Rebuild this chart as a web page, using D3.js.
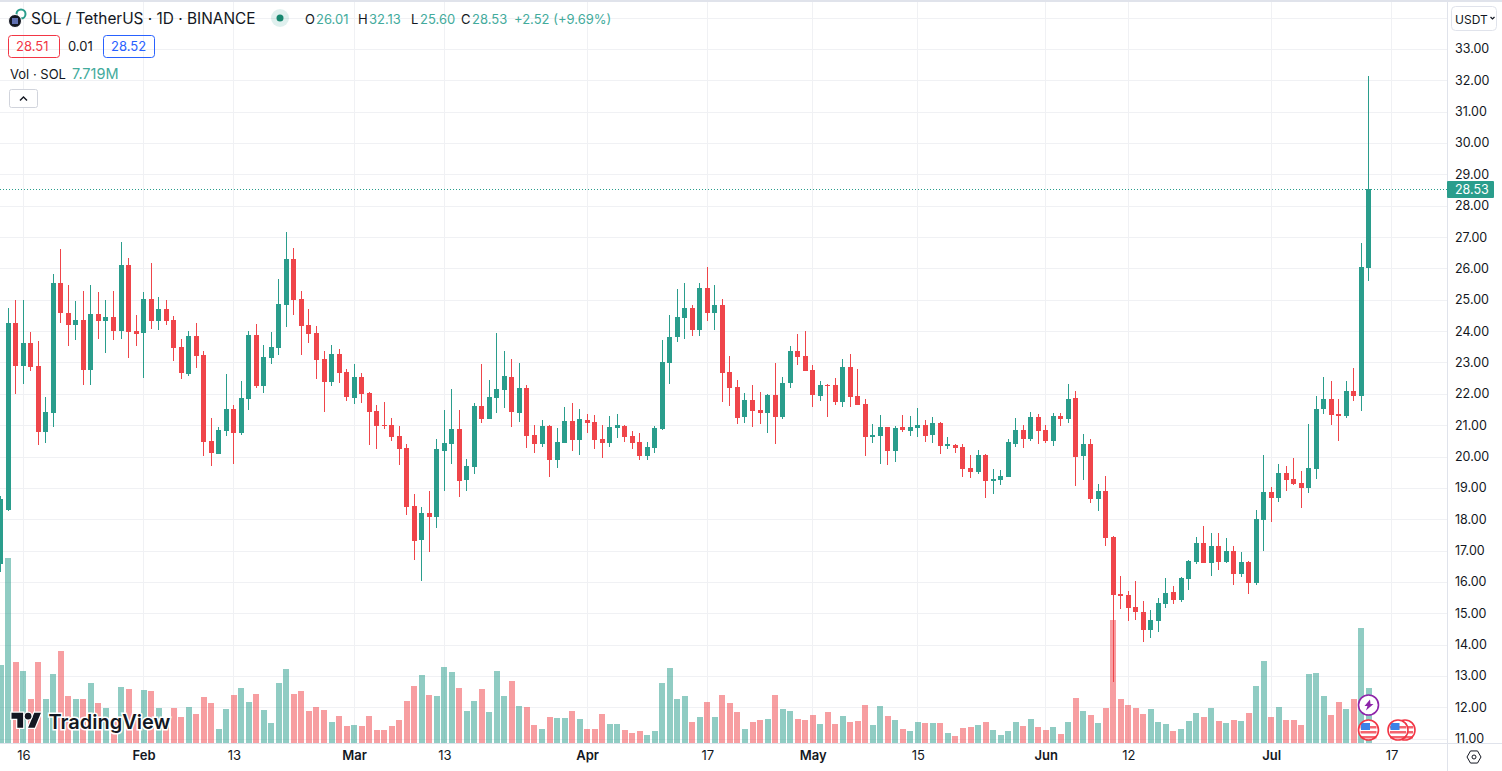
<!DOCTYPE html>
<html><head><meta charset="utf-8">
<style>
html,body{margin:0;padding:0;background:#fff;overflow:hidden}
text{font-family:Inter,"Noto Sans",sans-serif;fill:#131722}
</style>
<script src="https://cdnjs.cloudflare.com/ajax/libs/d3/7.8.5/d3.min.js"></script>
</head><body><svg id="c" width="1502" height="771"></svg>
<script>
const firstDay = "2023-01-13";
const opens = [16.57,18.29,24.25,22.88,23.61,22.88,20.78,21.38,25.52,24.57,
24.19,24.35,22.75,24.54,24.31,24.44,23.99,26.1,23.99,23.93,
25.01,24.31,24.7,24.35,23.48,22.62,23.83,23.23,20.49,20.07,
20.81,21.51,20.74,21.83,23.87,22.24,23.13,23.45,24.82,26.29,
25.01,24.19,23.93,23.1,22.37,23.26,22.69,21.86,22.53,22.02,21.44,
21.0,21.0,20.65,20.27,18.42,17.33,18.19,18.07,20.17,20.39,
20.87,19.25,19.66,21.6,21.19,21.86,22.12,22.53,21.38,22.18,
20.68,20.39,20.97,19.88,20.43,21.13,20.52,21.16,21.09,20.55,
20.43,20.9,20.97,20.65,20.46,20.01,20.27,20.87,22.97,23.8,
24.41,24.73,24.03,25.37,24.57,24.82,22.69,22.21,21.25,21.79,
21.48,21.38,21.96,21.25,22.34,23.36,23.2,22.75,21.92,22.27,
22.27,21.73,22.85,21.92,21.67,20.62,20.65,20.93,20.17,20.93,
20.81,20.9,21.0,20.68,21.06,20.33,20.36,20.3,19.63,19.5,
20.04,19.21,19.25,19.34,20.39,20.84,20.55,21.25,20.84,20.49,
21.29,21.19,21.86,20.01,20.39,18.64,18.9,17.43,15.61,15.58,
15.2,15.04,14.46,14.75,15.29,15.67,15.42,16.09,16.63,17.24,
16.6,17.14,16.63,16.98,16.25,16.63,15.96,17.97,18.86,18.67,
19.47,19.28,19.15,18.99,19.6,21.51,21.83,21.35,21.29,22.08,
21.92,26.01];
const highs = [18.75,24.75,25.0,25.0,23.96,23.68,21.89,25.83,26.61,25.46,
24.95,25.27,25.46,25.24,24.98,25.27,26.83,26.32,24.5,25.24,
26.16,25.08,24.98,24.47,23.74,23.99,24.25,23.36,21.22,20.93,
22.62,21.63,22.4,23.99,24.22,23.55,23.96,25.65,27.15,26.64,
25.27,24.7,24.15,23.36,23.55,23.42,22.78,22.94,22.66,22.05,21.63,
21.73,21.22,20.97,20.39,18.8,18.38,18.89,20.55,21.48,22.15,
21.48,19.91,21.7,22.94,22.43,23.93,23.36,23.1,22.97,22.27,
21.0,21.16,21.0,20.9,21.57,21.7,21.51,21.35,21.32,21.0,
21.29,21.35,21.0,20.81,20.74,20.46,20.97,23.71,24.5,25.33,
25.52,24.82,25.52,26.03,25.46,25.02,23.2,22.43,22.02,22.27,
22.05,21.99,22.97,22.53,23.52,23.9,24.0,22.91,22.4,22.3,
22.5,23.1,23.26,22.78,21.83,21.03,21.32,20.93,20.97,21.32,
21.29,21.54,21.16,21.25,21.09,20.62,20.39,20.4,20.04,20.2,
20.07,19.6,19.56,20.55,21.22,21.0,21.41,21.35,21.0,21.38,
21.38,22.31,22.08,20.71,20.55,19.12,19.37,17.46,16.19,15.71,
16.03,15.39,15.1,15.48,16.12,15.87,16.15,16.69,17.43,17.78,
17.56,17.56,17.4,17.14,16.95,16.66,18.29,20.04,19.02,19.76,
19.69,19.95,19.53,21.03,21.92,22.53,22.4,21.83,22.4,22.81,
26.8,32.13];
const lows = [16.31,18.25,21.99,22.3,22.72,20.36,20.42,20.93,24.25,23.52,
23.71,22.27,22.27,23.74,23.29,23.71,23.74,23.13,23.52,22.5,
24.06,24.03,24.19,23.04,22.46,22.56,22.81,20.01,19.69,20.07,
20.65,19.75,20.68,21.47,22.2,22.02,22.94,23.23,24.12,24.5,
23.23,23.61,22.46,21.41,22.24,22.34,21.76,21.67,21.7,20.36,20.23,
20.87,20.49,19.72,18.13,16.69,16.03,16.95,17.71,18.89,19.75,
18.7,18.89,19.44,21.06,21.19,21.38,21.54,20.93,21.09,20.27,
20.11,20.3,19.34,19.63,20.43,20.17,20.04,20.74,20.23,19.95,
20.3,20.58,20.46,20.23,19.88,19.88,20.11,20.84,22.31,23.64,
23.74,23.84,23.84,24.31,24.03,21.73,21.6,21.03,21.06,20.93,
21.03,20.74,20.39,21.19,22.18,22.91,22.72,21.57,21.76,21.25,
21.64,21.57,21.57,21.64,20.01,20.42,19.75,19.72,19.82,20.77,
20.65,20.62,20.46,20.42,20.07,20.23,20.11,19.34,19.31,19.44,
18.67,18.8,19.09,19.34,20.3,20.27,20.49,20.39,20.42,20.33,
20.97,21.06,19.05,19.25,18.51,18.26,17.14,12.81,15.13,14.75,
14.78,14.08,14.21,14.4,15.17,15.29,15.36,15.74,16.57,16.6,
16.19,16.38,16.6,15.9,16.15,15.61,15.9,17.0,17.91,18.54,
18.9,19.08,18.35,18.83,19.28,21.35,21.0,20.49,21.22,21.76,
21.44,25.6];
const closes = [18.64,24.25,22.88,23.61,22.85,20.78,21.41,25.52,24.57,24.19,
24.35,22.75,24.54,24.31,24.44,23.99,26.1,23.96,23.9,25.01,
24.31,24.7,24.31,23.45,22.66,23.83,23.2,20.46,20.1,20.84,
21.51,20.74,21.86,23.87,22.24,23.17,23.48,24.85,26.29,24.98,
24.15,23.9,23.07,22.37,23.26,22.66,21.89,22.53,21.99,21.41,20.97,
20.97,20.62,20.23,18.38,17.3,18.19,18.07,20.23,20.42,20.87,
19.21,19.69,21.6,21.19,21.89,22.15,22.56,21.41,22.18,20.65,
20.39,20.97,19.88,20.46,21.13,20.52,21.19,21.06,20.52,20.43,
20.93,21.0,20.62,20.43,20.01,20.3,20.9,23.0,23.8,24.44,
24.73,24.03,25.37,24.57,24.82,22.66,22.18,21.22,21.79,21.44,
21.38,21.96,21.25,22.34,23.36,23.17,22.72,21.96,22.27,22.24,
21.73,22.85,21.89,21.64,20.62,20.68,20.93,20.17,20.9,20.84,
20.93,21.0,20.65,21.06,20.33,20.39,20.27,19.6,19.5,20.04,
19.21,19.28,19.37,20.46,20.84,20.55,21.25,20.81,20.49,21.29,
21.19,21.83,19.98,20.39,18.64,18.9,17.4,15.58,15.55,15.17,
15.04,14.46,14.78,15.32,15.64,15.42,16.12,16.66,17.24,16.6,
17.14,16.63,16.98,16.25,16.63,15.96,18.0,18.86,18.67,19.47,
19.25,19.12,18.99,19.63,21.51,21.83,21.32,21.29,22.08,21.92,
26.03,28.53];
const volumes = [10.87,25.77,11.28,10.03,6.13,11.28,6.13,9.61,12.82,6.55,
6.13,6.13,8.36,5.57,4.88,3.2,7.8,7.52,3.2,7.38,
7.24,4.88,3.2,4.88,3.62,5.02,4.04,6.41,5.57,1.95,
4.74,6.69,7.66,5.71,6.83,4.6,2.79,8.36,10.31,6.83,
7.24,4.46,5.02,4.6,2.93,3.76,2.37,2.51,2.37,3.76,1.81,
1.81,2.37,3.2,5.85,7.94,9.47,6.69,6.55,10.59,9.89,
7.66,4.46,5.85,7.52,4.32,10.03,6.55,8.64,5.15,5.02,
2.51,1.95,3.62,3.48,3.48,4.46,3.34,1.95,1.95,4.04,
2.65,2.65,1.81,1.39,1.67,1.11,1.67,8.36,10.45,6.13,
6.55,2.93,3.62,5.71,3.62,6.69,5.57,4.32,1.95,2.93,
3.2,3.34,6.69,4.74,4.46,3.34,3.2,3.9,2.65,4.32,
2.65,3.76,2.93,3.07,5.29,2.51,5.15,3.76,3.2,1.95,
1.67,2.93,2.79,2.79,2.79,1.39,0.98,2.09,2.23,2.51,
2.93,1.81,1.11,1.67,2.93,2.37,3.34,2.23,1.81,2.23,
1.25,2.93,6.27,4.46,3.9,2.79,4.88,17.14,6.13,5.29,
4.88,4.04,4.74,2.93,2.65,1.67,1.95,3.07,4.18,3.62,
4.88,3.07,2.79,3.2,3.07,4.18,7.94,11.42,3.62,5.02,
3.2,3.2,2.51,9.61,9.75,6.55,3.9,5.71,4.74,6.13,
16.02,7.72];
const priceTicks = [11,12,13,14,15,16,17,18,19,20,21,22,23,24,25,26,27,28,29,30,31,32,33,34];
const dateTicks = ["2023-01-16","2023-02-01","2023-02-13","2023-03-01","2023-03-13","2023-04-01","2023-04-17","2023-05-01","2023-05-15","2023-06-01","2023-06-12","2023-07-01","2023-07-17"];
const dateLabels = ["16","Feb","13","Mar","13","Apr","17","May","15","Jun","12","Jul","17"];
const monthLabels = ["Feb","Mar","Apr","May","Jun","Jul"];
const lastPrice = 28.53;
const eventDays = ["2023-07-14","2023-07-18","2023-07-19"];

const UP="#2a9d8c", DOWN="#ef454a", GRID="#f0f1f4", BORDER="#e0e3eb";
const PLOT_R=1447, PLOT_B=743;
const day0=new Date(firstDay+"T00:00:00Z");
const dayOf=i=>new Date(day0.getTime()+i*864e5);
const rows=opens.map((o,i)=>({date:dayOf(i),o,h:highs[i],l:lows[i],c:closes[i],v:volumes[i],up:closes[i]>=o}));

const x=d3.scaleUtc().domain([new Date(dateTicks[0]+"T00:00:00Z"),new Date(dateTicks[12]+"T00:00:00Z")]).range([23.3,1391.5]);
const y=d3.scaleLinear().domain([11,33]).range([738.7,48.9]);
const yv=d3.scaleLinear().domain([0,10]).range([PLOT_B,PLOT_B-71.8]);
const cx=d=>Math.floor(x(d))+0.5;

const svg=d3.select("#c");
svg.append("defs").append("clipPath").attr("id","plot").append("rect").attr("width",PLOT_R).attr("height",PLOT_B);
svg.append("rect").attr("width",1502).attr("height",2).attr("fill",BORDER);

// grid
const grid=svg.append("g").attr("clip-path","url(#plot)").attr("shape-rendering","crispEdges");
grid.selectAll("line.h").data(priceTicks).join("line").attr("class","h")
 .attr("x1",0).attr("x2",PLOT_R).attr("y1",d=>Math.round(y(d))+.5).attr("y2",d=>Math.round(y(d))+.5).attr("stroke",GRID);
const tickDates=dateTicks.map(s=>new Date(s+"T00:00:00Z"));
grid.selectAll("line.v").data(tickDates).join("line").attr("class","v")
 .attr("x1",cx).attr("x2",cx).attr("y1",2).attr("y2",PLOT_B).attr("stroke",GRID);

const plot=svg.append("g").attr("clip-path","url(#plot)");
// volume
plot.append("g").attr("shape-rendering","crispEdges").selectAll("rect").data(rows).join("rect")
 .attr("x",d=>Math.round(x(d.date)-3)).attr("width",6)
 .attr("y",d=>Math.round(yv(d.v))).attr("height",d=>PLOT_B-Math.round(yv(d.v)))
 .attr("fill",d=>d.up?UP:DOWN).attr("fill-opacity",.52);
// wicks + bodies
const cg=plot.append("g").attr("shape-rendering","crispEdges");
cg.selectAll("rect.w").data(rows).join("rect").attr("class","w")
 .attr("x",d=>cx(d.date)-.5).attr("width",1)
 .attr("y",d=>Math.round(y(d.h))).attr("height",d=>Math.max(1,Math.round(y(d.l))-Math.round(y(d.h))))
 .attr("fill",d=>d.up?UP:DOWN);
cg.selectAll("rect.b").data(rows).join("rect").attr("class","b")
 .attr("x",d=>cx(d.date)-2.5).attr("width",5)
 .attr("y",d=>Math.round(y(Math.max(d.o,d.c))))
 .attr("height",d=>Math.max(1,Math.round(y(Math.min(d.o,d.c)))-Math.round(y(Math.max(d.o,d.c)))))
 .attr("fill",d=>d.up?UP:DOWN);
// last price line
plot.append("line").attr("x1",0).attr("x2",PLOT_R).attr("y1",Math.round(y(lastPrice))+.5).attr("y2",Math.round(y(lastPrice))+.5)
 .attr("stroke",UP).attr("stroke-dasharray","1 2");

// axes
const yAxis=svg.append("g").attr("transform",`translate(${PLOT_R},0)`)
 .call(d3.axisRight(y).tickValues(priceTicks.filter(p=>p<=33)).tickSize(0).tickPadding(8).tickFormat(d3.format(".2f")));
yAxis.select(".domain").remove();
yAxis.selectAll("text").attr("font-size",12.5).style("font-family","Inter").attr("fill","#131722");
const xAxis=svg.append("g").attr("transform",`translate(0,${PLOT_B})`)
 .call(d3.axisBottom(x).tickValues(tickDates).tickSize(0).tickPadding(8).tickFormat((d,i)=>dateLabels[i]));
xAxis.select(".domain").remove();
xAxis.selectAll("text").attr("font-size",13).attr("fill","#131722")
 .attr("font-weight",(d,i)=>monthLabels.includes(dateLabels[i])?600:400);
svg.append("g").attr("shape-rendering","crispEdges").call(g=>{
 g.append("line").attr("x1",0).attr("x2",1502).attr("y1",743.5).attr("y2",743.5).attr("stroke",BORDER);
 g.append("line").attr("x1",1447.5).attr("x2",1447.5).attr("y1",2).attr("y2",771).attr("stroke",BORDER);
});

// last price tag
const ly=Math.round(y(lastPrice));
svg.append("rect").attr("x",1447).attr("y",ly-8).attr("width",47).attr("height",17).attr("rx",1).attr("fill",UP);
svg.append("text").attr("x",1455).attr("y",ly+5).attr("font-size",12.5).style("fill","#fff").text(lastPrice.toFixed(2));

// currency button
svg.append("rect").attr("x",1451.5).attr("y",6.5).attr("width",45).attr("height",24).attr("rx",4).attr("fill","#fff").attr("stroke",BORDER);
svg.append("text").attr("x",1455).attr("y",24).attr("font-size",12).text("USDT");
svg.append("path").attr("d","M1490.5 17l2 2 2-2").attr("fill","none").attr("stroke","#131722").attr("stroke-width",1.2);

// settings icon
const hex=d3.range(6).map(k=>[1474+7*Math.cos(k*Math.PI/3),757+7*Math.sin(k*Math.PI/3)]);
svg.append("path").attr("d","M"+hex.join("L")+"Z").attr("fill","none").attr("stroke","#131722");
svg.append("circle").attr("cx",1474).attr("cy",757).attr("r",2).attr("fill","none").attr("stroke","#131722");

// header
svg.append("circle").attr("cx",21).attr("cy",14).attr("r",4.5).attr("fill","#fff").attr("stroke",UP).attr("stroke-width",2);
svg.append("circle").attr("cx",15).attr("cy",21).attr("r",6.5).attr("fill","#131722").attr("stroke","#fff");
svg.append("rect").attr("x",12).attr("y",18).attr("width",6).attr("height",6).attr("fill","#5f6fb0");
const T=(x0,y0,s,col,fs=13,w=400)=>svg.append("text").attr("x",x0).attr("y",y0).attr("font-size",fs).attr("font-weight",w).style("fill",col||"#131722").text(s);
T(31,24,"SOL / TetherUS · 1D · BINANCE","#131722",15.4);
svg.append("circle").attr("cx",280).attr("cy",18).attr("r",9).attr("fill",UP).attr("fill-opacity",.15);
svg.append("circle").attr("cx",280).attr("cy",18).attr("r",3.5).attr("fill","#17876f");
const G="#43ab9c";
T(305,24,"O");T(316,24,"26.01",G);T(358,24,"H");T(369,24,"32.13",G);T(411,24,"L");T(420,24,"25.60",G);T(461,24,"C");T(472,24,"28.53",G);T(514,24,"+2.52 (+9.69%)",G);
svg.append("rect").attr("x",8.5).attr("y",35.5).attr("width",51).attr("height",22).attr("rx",3).attr("fill","none").attr("stroke","#f23645");
T(16,51,"28.51","#f23645");
T(68,51,"0.01");
svg.append("rect").attr("x",103.5).attr("y",35.5).attr("width",51).attr("height",22).attr("rx",3).attr("fill","none").attr("stroke","#2962ff");
T(111,51,"28.52","#2962ff");
T(10,79,"Vol · SOL");T(72,79,"7.719M",G,14.5);
svg.append("rect").attr("x",9.5).attr("y",89.5).attr("width",28).attr("height",18).attr("rx",2).attr("fill","#fff").attr("stroke","#d1d4dc");
svg.append("path").attr("d","M20 100.5l3.5-3.5 3.5 3.5").attr("fill","none").attr("stroke","#131722").attr("stroke-width",1.4);

// watermark
const logo=svg.append("g").attr("transform","translate(11.5,709.5) scale(.83)").attr("fill","#131722").attr("stroke","#fff").attr("stroke-width",3).attr("paint-order","stroke");
logo.append("path").attr("d","M14 22H7V11H0V4h14v18zM28 22h-8l7.5-18h8L28 22z");
logo.append("circle").attr("cx",20).attr("cy",8).attr("r",4);
svg.append("text").attr("x",48.5).attr("y",729).attr("font-size",20).attr("font-weight",600)
 .style("fill","#131722").attr("stroke","#fff").attr("stroke-width",3).attr("paint-order","stroke").text("TradingView");

// event markers
const events=svg.append("g");
function flag(cxp,cyp){
 const g=events.append("g").attr("transform",`translate(${cxp},${cyp})`);
 g.append("circle").attr("r",10).attr("fill","#fff");
 [-3,2,7].forEach(o=>g.append("rect").attr("x",-8).attr("y",o-1).attr("width",16).attr("height",2.5).attr("fill","#f4646e"));
 g.append("rect").attr("x",-7.5).attr("y",-7).attr("width",9).attr("height",7).attr("fill","#3b82e8");
 g.append("circle").attr("r",10).attr("fill","none").attr("stroke","#f23645").attr("stroke-width",1.6);
}
flag(Math.round(x(new Date(eventDays[2]+"T00:00:00Z")))-2,730);
flag(Math.round(x(new Date(eventDays[1]+"T00:00:00Z")))-1,730);
flag(cx(new Date(eventDays[0]+"T00:00:00Z")),730);
const bolt=events.append("g").attr("transform",`translate(${cx(new Date(eventDays[0]+"T00:00:00Z"))},705)`);
bolt.append("circle").attr("r",10).attr("fill","#fff").attr("stroke","#8e24aa").attr("stroke-width",1.6);
bolt.append("path").attr("d","M1.5-5.5L-4 1h3l-1.5 4.5L5-1H2z").attr("fill","#8e24aa");
</script></body></html>
